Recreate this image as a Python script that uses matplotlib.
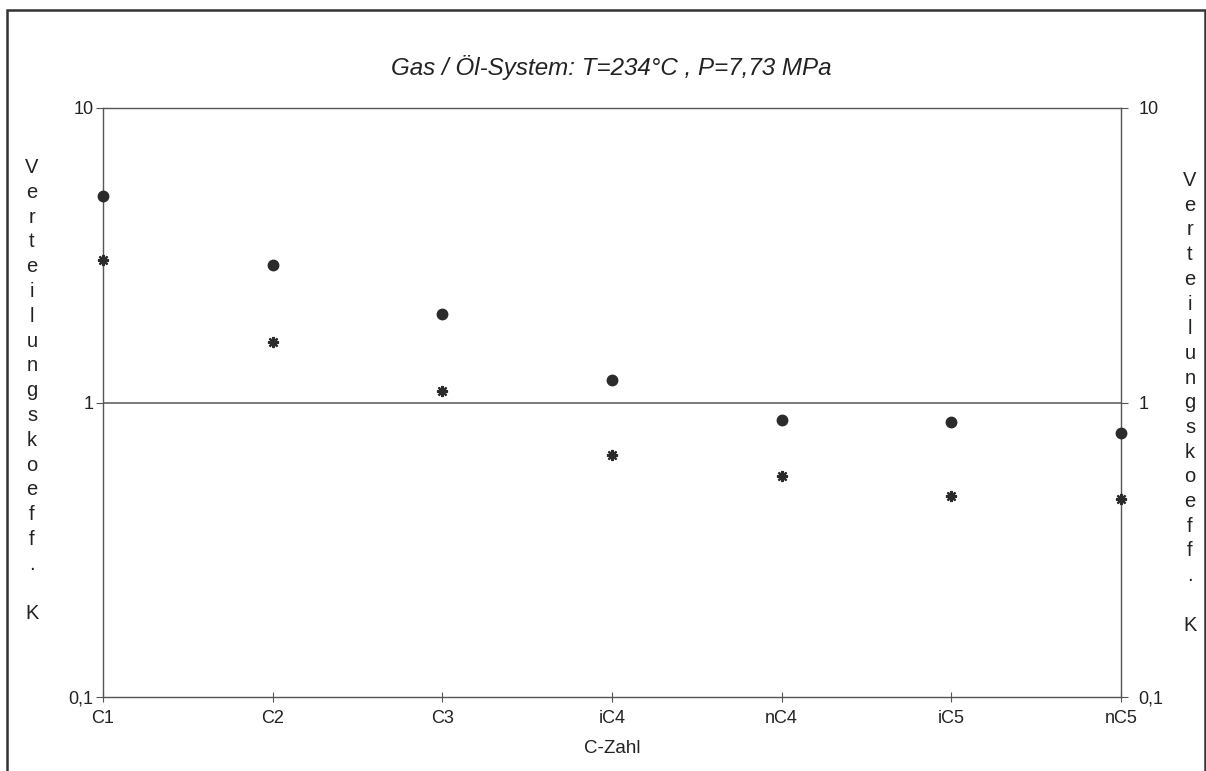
import matplotlib
matplotlib.use("Agg")
import matplotlib.pyplot as plt
from matplotlib.patches import Rectangle
from matplotlib.ticker import FixedLocator, FixedFormatter, NullLocator

plt.rcParams['font.family'] = ['Liberation Sans', 'DejaVu Sans']

# data
komponenten = ['C1', 'C2', 'C3', 'iC4', 'nC4', 'iC5', 'nC5']
k_punkte = [5.02, 2.93, 1.99, 1.19, 0.87, 0.857, 0.79]
k_sterne = [3.04, 1.60, 1.09, 0.662, 0.565, 0.481, 0.471]
y_ticks = [0.1, 1, 10]
y_tick_labels = ['0,1', '1', '10']
y_titel = list('Verteilungskoeff.') + [' ', 'K']

W, H = 1206, 771
fig = plt.figure(figsize=(W/100, H/100), dpi=100)
ax = fig.add_axes([103/W, 1-697/H, (1121-103)/W, (697-108)/H])

x = list(range(len(komponenten)))
ax.plot(x, k_punkte, linestyle='none', marker='o', markersize=7.5,
        color='#2b2b2b', clip_on=False, zorder=3)
ax.plot(x, k_sterne, linestyle='none', marker=(8, 2, 0), markersize=8,
        markeredgewidth=1.6, color='#2b2b2b', clip_on=False, zorder=3)

ax.set_yscale('log')
ax.set_ylim(0.1, 10)
ax.set_xlim(0, len(komponenten) - 1)
ax.axhline(1, color='#555555', linewidth=1.1, zorder=1)

ax.yaxis.set_major_locator(FixedLocator(y_ticks))
ax.yaxis.set_major_formatter(FixedFormatter(y_tick_labels))
ax.yaxis.set_minor_locator(NullLocator())
ax.set_xticks(x)
ax.set_xticklabels(komponenten)

ax.tick_params(axis='y', which='major', direction='out', length=5, width=0.8,
               color='#555555', labelsize=13, left=True, right=True,
               labelleft=True, labelright=True, pad=2, labelcolor='#222222')
ax.tick_params(axis='x', direction='inout', length=7, width=0.8,
               color='#555555', labelsize=13, pad=6, labelcolor='#222222')
for s in ax.spines.values():
    s.set_color('#555555')
    s.set_linewidth(1.0)

# rechte Beschriftung etwas weiter weg
for t in ax.yaxis.get_major_ticks():
    t.label2.set_x(1.0 + 8/1018)

ax.set_xlabel('C-Zahl', fontsize=13.5, labelpad=9, color='#222222')

fig.text(611/W, 1-68/H, 'Gas / Öl-System: T=234°C , P=7,73 MPa',
         ha='center', va='center', fontsize=17.4, style='italic', color='#222222')

# senkrecht gestapelte Achsentitel, Buchstabe fuer Buchstabe
def stapel(xpix, y0, schritt):
    for i, ch in enumerate(y_titel):
        if ch.strip():
            fig.text(xpix/W, 1-(y0 + i*schritt + 6)/H, ch, ha='center',
                     va='baseline', fontsize=14.5, color='#222222')

stapel(32, 167, 24.8)
stapel(1190, 180, 24.7)

# Rahmen um das ganze Diagramm
fig.patches.append(Rectangle((7/W, -0.05), (1205-7)/W, 1.05 - 10/H,
                             transform=fig.transFigure, fill=False,
                             edgecolor='#333333', linewidth=1.8))

fig.savefig('out.png', dpi=100)
